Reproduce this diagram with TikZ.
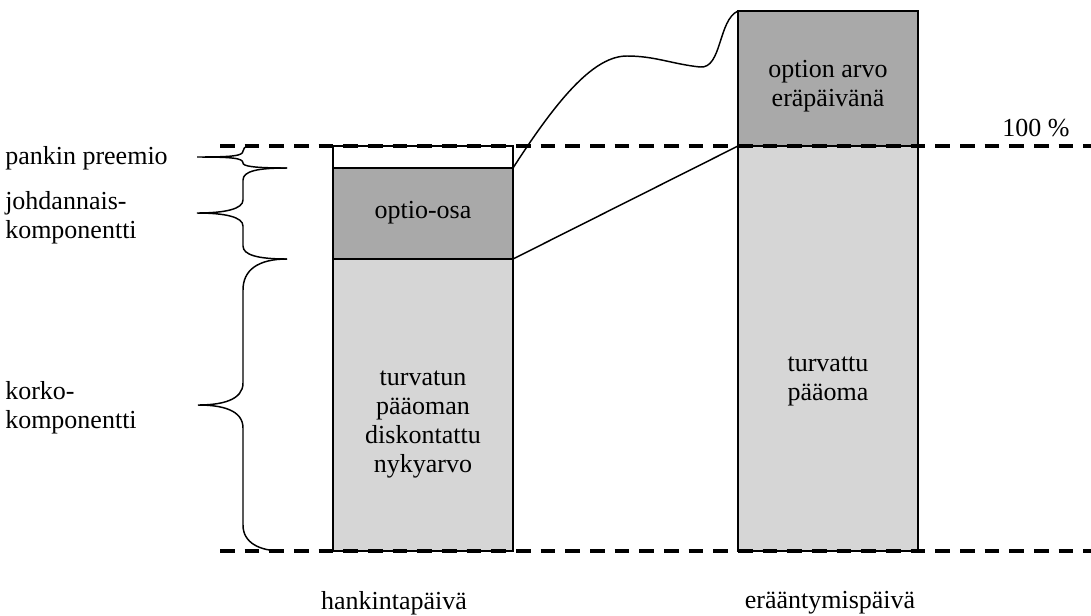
\documentclass[tikz,border=0pt]{standalone}
\usepackage{fontspec}
\setmainfont{Liberation Serif}
\definecolor{darkfill}{HTML}{A9A9A9}
\definecolor{lightfill}{HTML}{D6D6D6}
\tikzset{
  seg/.style={draw=black, line width=1.1pt, minimum width=135pt, inner sep=0pt, outer sep=0pt},
  lbl/.style={font=\fontsize{19.5}{21.75}\selectfont, align=center, inner sep=0pt},
  refline/.style={line width=2.3pt, dash pattern=on 11pt off 7.5pt},
  brace/.style={line width=1.1pt},
  conn/.style={line width=1.1pt}
}
\begin{document}
\begin{tikzpicture}[x=0.75pt, y=-0.75pt]
\useasboundingbox (0,0) rectangle (1091,615);
% left bar
\node[seg, fill=white, minimum height=16.5pt] (prem) at (423,157) {};
\node[seg, fill=darkfill, minimum height=68.25pt] (opt) at (423,213.5) {};
\node[seg, fill=lightfill, minimum height=219pt] (korko) at (423,405) {};
% right bar
\node[seg, fill=darkfill, minimum height=101.25pt] (rdark) at (828,78.5) {};
\node[seg, fill=lightfill, minimum height=303.75pt] (rlight) at (828,348.5) {};
% texts in bars
\node[lbl] (toptio) at (423,213) {optio-osa};
\node[lbl] (tkorko) at (423,424.5) {turvatun\\pääoman\\diskontattu\\nykyarvo};
\node[lbl] (trdark) at (828,86.5) {option arvo\\eräpäivänä};
\node[lbl] (trlight) at (828,381.5) {turvattu\\pääoma};
% connectors
\draw[conn] (opt.north east) .. controls (560,95) and (595,56) .. (627,56)
  .. controls (655,56) and (672,64) .. (700,67)
  .. controls (722,69) and (718,20) .. (rdark.north west);
\draw[conn] (korko.north east) -- (rlight.north west);
% reference lines
\coordinate (top0) at (220,146);
\coordinate (top1) at (1091,146);
\coordinate (bot0) at (220,551);
\coordinate (bot1) at (1091,551);
\draw[refline] (top0) -- (top1);
\draw[refline] (bot0) -- (bot1);
\node[lbl, anchor=base] (hundred) at (1036,136) {100 \%};
% braces
\draw[brace] (252,146) .. controls (244,146) and (243,149) .. (243,151)
  .. controls (243,156) and (232,157) .. (197,157)
  .. controls (232,157) and (243,158) .. (243,163)
  .. controls (243,166) and (252,168) .. (287,168);
\draw[brace] (287,168) .. controls (258,168) and (243,171) .. (243,180)
  -- (243,200) .. controls (243,209) and (225,213) .. (197,213)
  .. controls (225,213) and (243,217) .. (243,226)
  -- (243,246) .. controls (243,255) and (258,259) .. (287,259);
\draw[brace] (287,259) .. controls (258,259) and (243,270) .. (243,290)
  -- (243,383) .. controls (243,400) and (222,405) .. (198,405)
  .. controls (222,405) and (243,410) .. (243,428)
  -- (243,525) .. controls (243,543) and (260,551) .. (282,551);
% brace labels
\node[lbl, anchor=west] (lprem) at (5,158) {pankin preemio};
\node[lbl, anchor=west, align=left] (lderiv) at (5,217.5) {johdannais-\\komponentti};
\node[lbl, anchor=west, align=left] (lkorko) at (5,407.5) {korko-\\komponentti};
% bottom labels
\node[lbl] (hank) at (394,603) {hankintapäivä};
\node[lbl] (erap) at (830,603) {erääntymispäivä};
\end{tikzpicture}
\end{document}
